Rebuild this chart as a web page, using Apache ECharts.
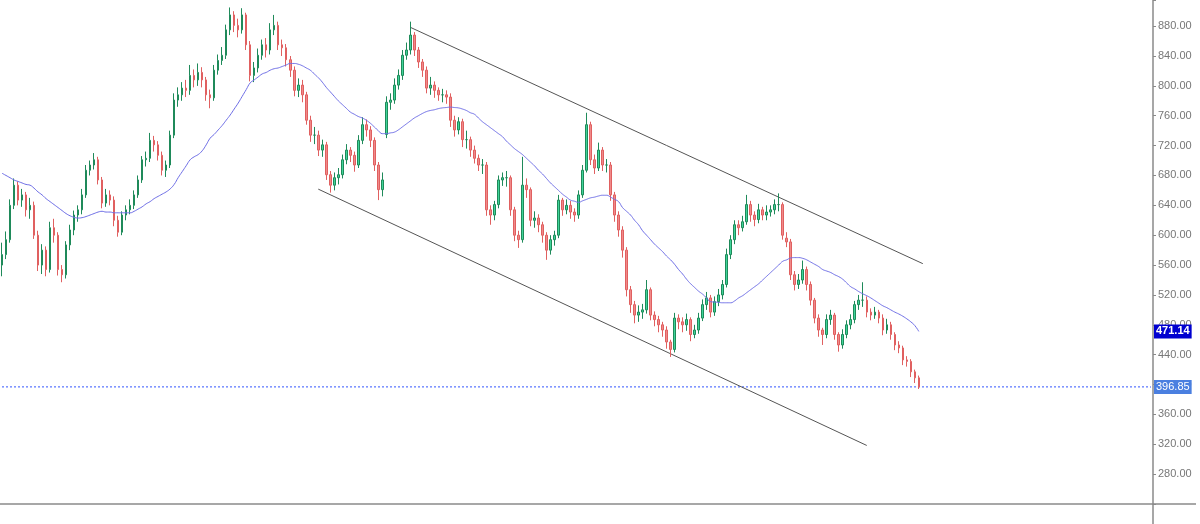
<!DOCTYPE html>
<html>
<head>
<meta charset="utf-8">
<script src="https://cdn.jsdelivr.net/npm/echarts@6/dist/echarts.min.js"></script>
<style>html,body{margin:0;padding:0;background:#fff;}#c{width:1200px;height:524px;}</style>
</head>
<body>
<div id="c"></div>
<script>
// ---- data ----
const slotCount = 288; // category slots on the time axis (candles + empty right margin)
const categories = Array.from({length: slotCount}, (_, i) => String(i));
const yTicks = [280, 320, 360, 400, 440, 480, 520, 560, 600, 640, 680, 720, 760, 800, 840, 880];
// [open, close, low, high]
const candles = [
[560,574,545,590],[574,594,568,605],[594,640,590,648],[640,667,635,676],[667,647,640,672],
[647,654,638,662],[654,634,625,658],[634,640,622,650],[640,600,595,645],[600,560,552,606],
[560,580,548,588],[580,554,545,585],[554,610,550,618],[610,600,590,622],[600,554,546,604],
[554,547,537,560],[547,587,542,592],[587,607,580,614],[607,627,600,633],[627,634,618,640],
[634,654,628,662],[654,687,650,694],[687,694,680,700],[694,701,688,710],[701,674,668,705],
[674,643,636,678],[643,654,638,662],[654,647,640,660],[647,620,612,652],[620,604,598,626],
[604,627,600,632],[627,634,620,640],[634,640,628,648],[640,654,635,660],[654,674,650,680],
[674,701,670,706],[701,703,692,712],[703,727,698,737],[727,721,712,733],[721,707,700,726],
[707,687,680,712],[687,694,678,700],[694,734,690,740],[734,781,730,790],[781,788,772,798],
[788,797,780,805],[797,794,785,808],[794,814,788,828],[814,808,798,822],[808,818,800,830],
[818,808,798,825],[808,788,780,812],[788,784,770,795],[784,821,780,828],[821,834,815,842],
[834,841,828,852],[841,875,836,882],[875,895,868,905],[895,881,872,900],[881,875,865,890],
[875,895,870,904],[895,855,848,898],[855,814,806,860],[814,824,805,832],[824,841,818,850],
[841,855,835,862],[855,848,838,864],[848,875,842,884],[875,881,868,895],[881,855,848,886],
[855,851,840,862],[851,835,826,856],[835,821,812,840],[821,794,786,826],[794,801,785,810],
[801,788,778,808],[788,754,748,792],[754,734,725,760],[734,734,722,745],[734,714,706,740],
[714,721,705,728],[721,681,674,725],[681,667,657,686],[667,677,660,684],[677,681,668,690],
[681,701,676,708],[701,714,695,722],[714,707,698,718],[707,694,685,712],[694,727,690,734],
[727,748,722,758],[748,741,732,755],[741,727,718,746],[727,694,686,731],[694,661,647,698],
[661,674,652,684],[735,778,730,786],[778,781,768,790],[781,801,776,810],[801,814,795,822],
[814,841,808,848],[841,848,835,858],[848,868,842,886],[868,848,840,872],[848,832,824,852],
[832,821,812,836],[821,797,790,826],[797,801,788,812],[801,794,784,806],[794,788,780,798],
[788,788,778,796],[788,785,776,794],[785,754,745,790],[754,741,732,760],[741,752,735,758],
[752,728,718,756],[728,728,716,740],[728,714,705,732],[714,703,696,720],[703,694,686,708],
[694,694,682,702],[694,634,626,698],[634,627,614,640],[627,641,620,646],[641,674,636,680],
[674,677,666,684],[677,677,665,686],[677,634,626,680],[634,600,592,638],[600,594,583,606],
[594,667,590,705],[667,661,650,676],[661,620,612,664],[620,623,610,632],[623,614,604,628],
[614,600,590,618],[600,580,567,604],[580,594,574,600],[594,600,586,606],[600,647,596,654],
[647,634,626,650],[634,640,628,648],[640,631,622,646],[631,627,618,636],[627,654,622,660],
[654,687,650,694],[687,748,684,764],[748,701,694,752],[701,690,682,708],[690,714,686,724],
[714,694,686,718],[694,694,684,702],[694,654,646,698],[654,627,618,658],[627,607,598,632],
[607,580,570,612],[580,527,518,584],[527,507,496,532],[507,493,482,512],[493,497,484,506],
[497,500,488,508],[500,527,495,540],[527,493,486,530],[493,487,478,498],[487,480,470,492],
[480,473,464,484],[473,457,448,478],[457,447,437,460],[447,489,443,496],[489,484,474,494],
[484,480,470,490],[480,487,472,495],[487,467,458,490],[467,473,462,480],[473,489,468,496],
[489,507,485,514],[507,516,500,524],[516,497,490,520],[497,511,492,518],[511,520,505,528],
[520,534,514,540],[534,574,530,582],[574,594,568,600],[594,614,588,620],[614,610,600,620],
[610,618,605,626],[618,641,614,654],[641,627,618,646],[627,621,612,632],[621,634,616,642],
[634,627,620,638],[627,631,620,640],[631,634,625,640],[634,641,628,648],[641,641,632,656],
[641,600,594,644],[596,591,584,604],[591,547,540,595],[547,534,526,552],[534,540,528,548],
[540,554,535,566],[554,534,526,558],[534,513,506,538],[513,489,482,516],[489,473,464,494],
[473,467,453,476],[467,487,462,494],[487,493,480,500],[493,467,460,496],[467,453,444,470],
[453,467,448,474],[467,480,462,486],[480,487,474,494],[487,507,482,512],[507,513,500,520],
[513,513,504,537],[513,497,490,518],[497,493,486,502],[493,497,488,504],[497,489,482,500],
[489,473,466,494],[473,480,468,488],[480,467,460,484],[467,453,446,470],[453,449,442,458],
[449,433,426,452],[433,431,424,438],[431,417,410,434],[417,409,402,420],[409,396.85,394,412]
];
const movingAvg = [
683,680,677,674,672,670,668,667,663,658,
654,649,645,641,637,633,629,626,624,623,
623.5,625,627,629,631,632,631,631,630,630,
630,630,630,632,635,638,642,645,649,652,
655,658,662,668,677,685,693,701,705,708,
713,721,730,735,741,747,754,761,769,777,
786,795,804,808,812,816,818,821,823,824,
826,828,830,830,829,827,824,821,816,811,
805,798,792,786,780,775,770,765,762,759,
757,754,750,745,740,736,736,737,738,741,
745,749,753,757,760,763,765.5,767,768,769.5,
770.5,771,771.5,771,770.5,769,767,764,762,757,
752,748,744,740,736,732,726,721,716,712,
708,703,698,693,687,682,676,670,665,660,
655,651,647,645.5,644,646,648,650,651,652.5,
653.5,653.5,651,648,645,637,632,627,620,614,
606,600,594,588,583,578,572,567,561,554,
548,541,535,530,525,521,516,511,510.5,510,
509.5,509.5,509.5,512,516,519,523,527,531,535,
540,545,550,555,560,565,567,569.5,570,570,
569,567,564,561,558,554,552,550,547,544.5,
541,536,531,528,524.5,521.5,519,516,512.5,509,
505.5,503,500,497,494.5,491.5,488,484,479,471.14
];
const upperChannel = [[102, 878.4], [230, 561.9]];
const lowerChannel = [[79, 661.7], [216, 318.4]];
const lastPrice = 396.85;
const lastAvg = 471.14;

// ---- chart ----
const chart = echarts.init(document.getElementById('c'), null, {renderer: 'canvas'});
const font = 'Arial, "Liberation Sans", sans-serif';
const tagLabel = (text, bg, bold) => ({
  show: true, position: 'end', distance: 1, formatter: () => text,
  backgroundColor: bg, color: '#fff', fontSize: 11, fontWeight: bold ? 'bold' : 'normal',
  fontFamily: font, padding: [2, 2, 1, 2]
});
chart.setOption({
  animation: false,
  backgroundColor: '#ffffff',
  grid: {left: 0, right: 47, top: 0, bottom: 20, containLabel: false},
  xAxis: {
    type: 'category', data: categories, boundaryGap: true,
    axisLine: {show: true, lineStyle: {color: '#8a8a8a', width: 1.5}},
    axisTick: {show: false}, axisLabel: {show: false}, splitLine: {show: false}
  },
  yAxis: {
    type: 'value', position: 'right', min: 240, max: 915, interval: 40,
    axisLine: {show: true, lineStyle: {color: '#8a8a8a', width: 1.5}},
    axisTick: {show: true, inside: false, length: 3, lineStyle: {color: '#8a8a8a'}},
    axisLabel: {
      margin: 5, color: '#777', fontSize: 11, fontFamily: font,
      formatter: v => yTicks.includes(v) ? v.toFixed(2) : ''
    },
    splitLine: {show: false}
  },
  series: [
    {
      type: 'line', data: [[0, lastPrice], [slotCount - 1, lastPrice]], showSymbol: false,
      lineStyle: {color: '#3355ff', type: [2, 2], width: 1}, z: 1, silent: true
    },
    {
      type: 'candlestick', data: candles, barWidth: 2,
      itemStyle: {color: '#3fd49a', color0: '#f08a8a', borderColor: '#1f8a5a', borderColor0: '#e06060', borderWidth: 1},
      z: 3
    },
    {
      type: 'line', data: movingAvg, showSymbol: false, smooth: true,
      lineStyle: {color: '#6e6ee6', width: 1}, z: 4,
      markLine: {
        silent: true, symbol: ['none', 'none'],
        data: [
          {yAxis: lastPrice, lineStyle: {color: 'rgba(0,0,0,0)', width: 0},
           label: tagLabel(lastPrice.toFixed(2), '#4a7fe0', false)},
          {yAxis: lastAvg, lineStyle: {color: 'rgba(0,0,0,0)', width: 0},
           label: tagLabel(lastAvg.toFixed(2), '#0000d0', true)}
        ]
      }
    },
    {
      type: 'line', data: upperChannel, showSymbol: false,
      lineStyle: {color: '#555', width: 1}, z: 2
    },
    {
      type: 'line', data: lowerChannel, showSymbol: false,
      lineStyle: {color: '#555', width: 1}, z: 2
    }
  ],
  graphic: [
    {type: 'line', shape: {x1: 1153, y1: 504, x2: 1153, y2: 524}, style: {stroke: '#8a8a8a', lineWidth: 1.5}},
    {type: 'line', shape: {x1: 1153, y1: 504, x2: 1196, y2: 504}, style: {stroke: '#8a8a8a', lineWidth: 1.5}}
  ]
});
</script>
</body>
</html>
